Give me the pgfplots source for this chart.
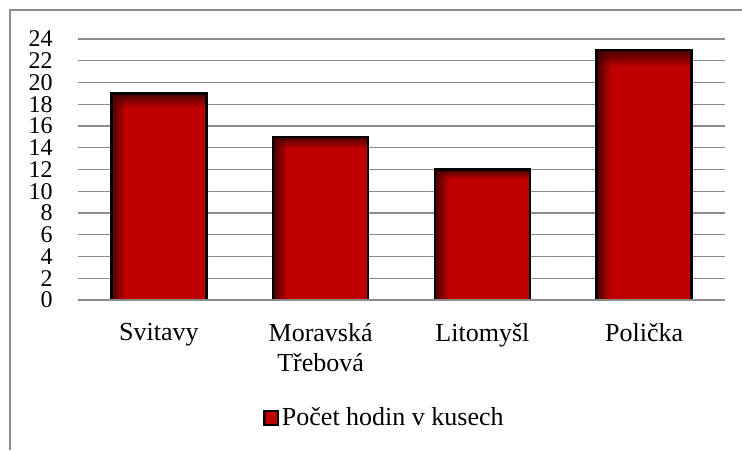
\documentclass[border=0pt]{standalone}
\usepackage{fontspec}
\setmainfont{Liberation Serif}
\usepackage{pgfplots}
\pgfplotsset{compat=1.18}
\definecolor{barred}{HTML}{C00000}
\definecolor{legred}{HTML}{7A0000}
\definecolor{gridc}{HTML}{8C8C8C}
% dark edge on the left and on top of each bar
\pgfdeclarefunctionalshading{barshade}{\pgfpoint{0bp}{0bp}}{\pgfpoint{100bp}{100bp}}{}{
  75 exch sub 3.5 div dup 1 gt {pop 1} if dup 0 lt {pop 0} if
  exch 25 sub 7.5 div dup 1 gt {pop 1} if dup 0 lt {pop 0} if
  mul 0.473 mul 0.28 add 0 0
}
\newcommand{\lblfont}{\fontsize{19.5}{22.5}\selectfont}

\begin{document}
\lblfont
\begin{tikzpicture}[x=0.75pt, y=-0.75pt]
  \useasboundingbox (0,0) rectangle (742,450);
  \draw[gridc, line width=1pt] (10,450) -- (10,10) -- (742,10);
\begin{axis}[
  at={(58.5pt,-225pt)}, anchor=south west,
  scale only axis, width=485.25pt, height=195.75pt,
  xmin=-0.5, xmax=3.5, ymin=0, ymax=24,
  ytick={0,2,...,24},
  xtick={0,1,2,3},
  xticklabels={Svitavy, {Moravská\\Třebová}, Litomyšl, Polička},
  axis line style={draw=none},
  major tick length=0pt,
  ymajorgrids, grid style={gridc, line width=0.9pt},
  /pgf/number format/assume math mode=true,
  ticklabel style={font=\lblfont},
  yticklabel style={anchor=east, inner sep=0pt, xshift=-18.75pt,
    font=\fontsize{18}{20}\selectfont},
  xticklabel style={anchor=north, inner sep=0pt, yshift=-17pt, align=center},
  legend style={draw=none, fill=none, at={(0.286,-0.452)}, anchor=west,
    inner sep=0pt, font=\lblfont},
  legend image code/.code={\draw[black, line width=1.5pt, fill=legred]
    (0pt,-5.2pt) rectangle (10.5pt,5.2pt);},
  barsty/.style={ybar, bar width=71.25pt, bar shift=0pt, draw=black,
    line width=2pt, shading=barshade},
]
  \addplot[barsty] coordinates {(0,19)};
  \addlegendentry{Počet hodin v kusech}
  \addplot[barsty, forget plot] coordinates {(1,15)};
  \addplot[barsty, forget plot] coordinates {(2,12)};
  \addplot[barsty, forget plot] coordinates {(3,23)};
  \draw[gridc, line width=0.9pt] (axis cs:-0.5,0) -- (axis cs:3.5,0);
\end{axis}
\end{tikzpicture}
\end{document}
